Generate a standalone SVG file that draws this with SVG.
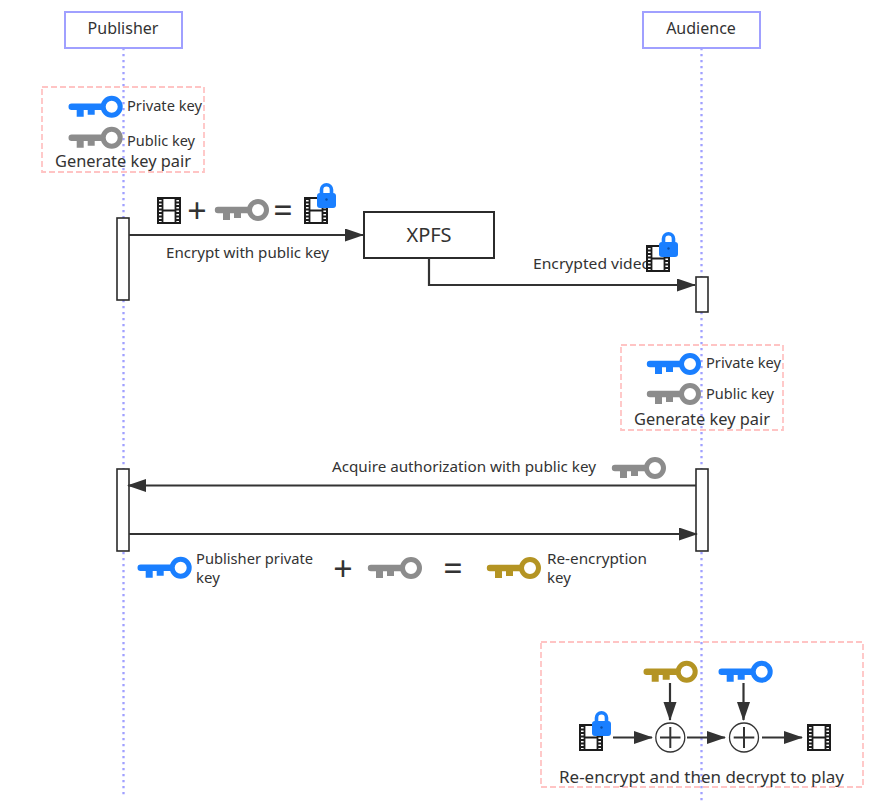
<svg xmlns="http://www.w3.org/2000/svg" width="891" height="810" viewBox="0 0 891 810">
<style>
text{font-family:"Noto Sans","Open Sans","Liberation Sans",sans-serif;fill:#333;font-size:15px}
.actor{fill:#fff;stroke:#a0a0ff;stroke-width:2}
.life{stroke:#a0a0ff;stroke-width:2.300;stroke-dasharray:2.300 3.700;fill:none}
.dash{fill:none;stroke:#ffc4c4;stroke-width:1.800;stroke-dasharray:6 3}
.act{fill:#fff;stroke:#2b2b2b;stroke-width:1.600}
.msg{fill:none;stroke:#333;stroke-width:2.200;marker-end:url(#arrow)}
.big{font-size:34px;text-anchor:middle}
.c{text-anchor:middle}
</style>
<defs>
<marker id="arrow" markerUnits="userSpaceOnUse" markerWidth="20" markerHeight="14" refX="18" refY="6.500" orient="auto"><path d="M0 0L19 6.500L0 13Z" fill="#333"/></marker>
<symbol id="key" overflow="visible" viewBox="0 0 1 1" width="1" height="1">
<circle cx="0" cy="0" r="8.500" fill="none" stroke="currentColor" stroke-width="5"/>
<path d="M-8 -3.200H-40A3.200 3.200 0 0 0 -40 3.200H-35V10H-28V3.200H-24V8H-17V3.200H-8Z" fill="currentColor"/>
</symbol>
<g id="film">
<rect x="1" y="1" width="22" height="25" fill="#fff" stroke="#1c1c1c" stroke-width="2"/>
<path d="M5.500 1V26M18.500 1V26M5.500 13.500H18.500" stroke="#1c1c1c" stroke-width="1.800" fill="none"/>
<path d="M3 1V26M21 1V26" stroke="#1c1c1c" stroke-width="4" stroke-dasharray="2 1.500" fill="none"/>
</g>
<g id="lock">
<path d="M4.500 11V6.700a5 5 0 0 1 10 0V11" fill="none" stroke="#1a7fff" stroke-width="3.600"/>
<rect x="0" y="10" width="19" height="15" rx="3" fill="#1a7fff"/>
<circle cx="9.500" cy="16.500" r="1.200" fill="#0b4fa8"/>
</g>
</defs>
<rect width="891" height="810" fill="#fff"/>
<g id="lifelines">
<path class="life" d="M123.500 48V797"/>
<path class="life" d="M701.500 48V802"/>
</g>
<g id="publisher"><rect class="actor" x="65" y="12" width="117" height="36"/><text class="c" x="123" y="34" style="font-size:16px">Publisher</text></g>
<g id="audience"><rect class="actor" x="643" y="12" width="117" height="36"/><text class="c" x="701" y="34" style="font-size:16px">Audience</text></g>
<g id="keypair-publisher">
<rect class="dash" x="42" y="87" width="162" height="85"/>
<use href="#key" x="111.700" y="106.700" color="#1a7fff"/>
<use href="#key" x="111.700" y="137.700" color="#8c8c8c"/>
<text x="127" y="111" textLength="75" lengthAdjust="spacingAndGlyphs">Private key</text>
<text x="127" y="146" textLength="68" lengthAdjust="spacingAndGlyphs">Public key</text>
<text x="55" y="167" textLength="136" lengthAdjust="spacingAndGlyphs" style="font-size:16px">Generate key pair</text>
</g>
<g id="activation-publisher-1"><rect class="act" x="117" y="218" width="12" height="82"/></g>
<g id="encrypt-formula">
<use href="#film" x="157" y="197"/>
<text class="big" x="197" y="223">+</text>
<use href="#key" x="258" y="210" color="#8c8c8c"/>
<text class="big" x="283" y="223">=</text>
<use href="#film" x="304" y="197"/>
<use href="#lock" x="317" y="183"/>
</g>
<g id="xpfs"><rect x="364" y="212" width="130" height="46" fill="#fff" stroke="#2b2b2b" stroke-width="2"/><text class="c" x="429" y="242" style="font-size:20px">XPFS</text></g>
<g id="activation-audience-1"><rect class="act" x="696" y="277" width="12" height="35"/></g>
<g id="keypair-audience">
<rect class="dash" x="621" y="345" width="162" height="85"/>
<use href="#key" x="690" y="364" color="#1a7fff"/>
<use href="#key" x="690" y="394" color="#8c8c8c"/>
<text x="706" y="368" textLength="75" lengthAdjust="spacingAndGlyphs">Private key</text>
<text x="706" y="399" textLength="68" lengthAdjust="spacingAndGlyphs">Public key</text>
<text x="634" y="425" textLength="136" lengthAdjust="spacingAndGlyphs" style="font-size:16px">Generate key pair</text>
</g>
<g id="activation-publisher-2"><rect class="act" x="117" y="469" width="12" height="82"/></g>
<g id="activation-audience-2"><rect class="act" x="696" y="469" width="12" height="82"/></g>
<g id="connectors">
<path class="msg" d="M129 235H363"/>
<path class="msg" d="M429 258V285H695"/>
<path class="msg" d="M696 485.500H128"/>
<path class="msg" d="M129 534H697"/>
<path class="msg" d="M670 683V720"/>
<path class="msg" d="M743.500 683V720"/>
<path class="msg" d="M613 737.500H652"/>
<path class="msg" d="M687 737.500H725"/>
<path class="msg" d="M762 737.500H802"/>
</g>
<g id="labels">
<text x="166" y="258" textLength="163" lengthAdjust="spacingAndGlyphs">Encrypt with public key</text>
<text x="533" y="269" textLength="118" lengthAdjust="spacingAndGlyphs">Encrypted video</text>
<text x="332" y="472" textLength="264" lengthAdjust="spacingAndGlyphs">Acquire authorization with public key</text>
</g>
<g id="encrypted-video"><use href="#film" x="646" y="245"/><use href="#lock" x="659" y="232"/></g>
<use id="key-acquire" href="#key" x="655" y="468" color="#8c8c8c"/>
<g id="reencrypt-formula">
<use href="#key" x="180.700" y="567.700" color="#1a7fff"/>
<text x="196" y="564" textLength="117" lengthAdjust="spacingAndGlyphs">Publisher private</text>
<text x="196" y="583">key</text>
<text class="big" x="343" y="581">+</text>
<use href="#key" x="411" y="568" color="#8c8c8c"/>
<text class="big" x="453" y="581">=</text>
<use href="#key" x="530" y="568" color="#b49423"/>
<text x="547" y="564" textLength="100" lengthAdjust="spacingAndGlyphs">Re-encryption</text>
<text x="547" y="583">key</text>
</g>
<g id="play">
<rect class="dash" x="541" y="642" width="322" height="145"/>
<use href="#key" x="686.700" y="671.700" color="#b49423"/>
<use href="#key" x="761.700" y="671.700" color="#1a7fff"/>
<use href="#film" x="579" y="724"/>
<use href="#lock" x="592" y="711"/>
<g fill="#fff" stroke="#333" stroke-width="1.300"><circle cx="670.300" cy="737.500" r="14.500"/><circle cx="744" cy="737.500" r="14.500"/></g>
<path d="M660 737.500H680.500M670.300 727V748M733.700 737.500H754.300M744 727V748" stroke="#333" stroke-width="2" fill="none"/>
<use href="#film" x="807" y="724"/>
<text x="559" y="783" textLength="285" lengthAdjust="spacingAndGlyphs" style="font-size:16px">Re-encrypt and then decrypt to play</text>
</g>
</svg>
